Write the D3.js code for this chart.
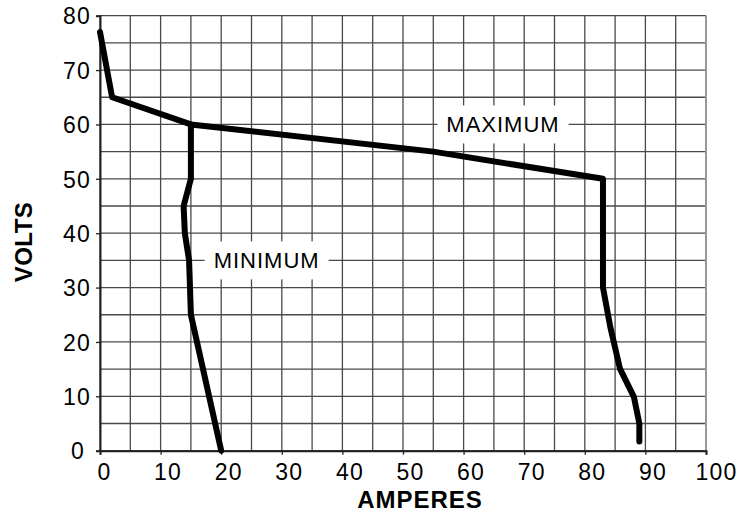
<!DOCTYPE html>
<html>
<head>
<meta charset="utf-8">
<script src="https://cdn.jsdelivr.net/npm/d3@7"></script>
<style>
body { margin: 0; background: #fff; }
text { font-family: "Liberation Sans", Arial, Helvetica, sans-serif; }
</style>
</head>
<body>
<svg id="chart" width="742" height="516"></svg>
<script>
// tick values
var xTicks = [0, 10, 20, 30, 40, 50, 60, 70, 80, 90, 100];
var yTicks = [0, 10, 20, 30, 40, 50, 60, 70, 80];
var gridStep = 5;

// curves: [amperes, volts]
var maximum = [[0, 77], [2, 65], [15, 60], [55, 55], [83, 50], [83, 30], [84.2, 22.8], [85.8, 15.1], [88.1, 9.9], [89, 5], [89, 1.7]];
var minimum = [[15, 60], [15, 50], [13.8, 45], [14, 40], [14.7, 35], [15, 25], [20, 0]];

// curve labels [text, amperes, volts]
var labels = [["MAXIMUM", 66.5, 60], ["MINIMUM", 27.5, 35]];

var svg = d3.select('#chart');

var x = d3.scaleLinear().domain([0, 100]).range([100, 706]);
var y = d3.scaleLinear().domain([0, 80]).range([450.7, 15.7]);

//grid
var gx = d3.range(0, 100 + gridStep, gridStep);
var gy = d3.range(0, 80 + gridStep, gridStep);
var grid = svg.append('g').attr('stroke', '#4a4a4a').attr('stroke-width', 1.3);
grid.selectAll('.vx').data(gx).enter().append('line')
	.attr('x1', function(d){ return x(d); }).attr('x2', function(d){ return x(d); })
	.attr('y1', y(0)).attr('y2', y(80));
grid.selectAll('.hy').data(gy).enter().append('line')
	.attr('y1', function(d){ return y(d); }).attr('y2', function(d){ return y(d); })
	.attr('x1', x(0)).attr('x2', x(100));
// right frame is a bit heavier & gray
svg.append('line').attr('x1', x(100)).attr('x2', x(100)).attr('y1', y(0)).attr('y2', y(80))
	.attr('stroke', '#999').attr('stroke-width', 2);

//label boxes (white patches over the grid)
var labelLayer = svg.append('g');

//axes
var xAxis = d3.axisBottom(x).tickValues(xTicks).tickSize(4).tickPadding(9);
var yAxis = d3.axisLeft(y).tickValues(yTicks).tickSize(4).tickPadding(5);
var ax = svg.append('g').attr('transform', 'translate(0,' + y(0) + ')').call(xAxis);
var ay = svg.append('g').attr('transform', 'translate(' + x(0) + ',0)').call(yAxis);
[ax, ay].forEach(function(a){
	a.attr('font-size', 23).attr('font-family', '"Liberation Sans", Arial, sans-serif');
	a.select('.domain').attr('stroke', '#222').attr('stroke-width', 2);
	a.selectAll('.tick line').attr('stroke', '#222').attr('stroke-width', 1.3);
	a.selectAll('.tick text').attr('fill', '#000');
});
// labels in the original sit a little right of their ticks
ax.selectAll('.tick text').attr('letter-spacing', 1.2)
	.attr('dx', function(d){ return 1 + 3 * String(d).length; });
ay.selectAll('.tick text').attr('letter-spacing', 1.2).attr('dy', '0.36em')
	.attr('dx', function(d){ return String(d).length < 2 ? -6 : 0; });

labels.forEach(function(l){
	var g = labelLayer.append('g');
	var r = g.append('rect').attr('fill', '#fff');
	var t = g.append('text')
		.attr('x', x(l[1])).attr('y', y(l[2]))
		.attr('dy', '0.36em')
		.attr('text-anchor', 'middle')
		.attr('font-size', 22)
		.attr('letter-spacing', 1)
		.text(l[0]);
	var b = t.node().getBBox();
	r.attr('x', b.x - 9).attr('y', y(l[2]) - 19)
		.attr('width', b.width + 18).attr('height', 38);
});

//curves
var line = d3.line().x(function(d){ return x(d[0]); }).y(function(d){ return y(d[1]); });
[maximum, minimum].forEach(function(c){
	svg.append('path')
		.attr('d', line(c))
		.attr('fill', 'none')
		.attr('stroke', '#000')
		.attr('stroke-width', 6)
		.attr('stroke-linejoin', 'round')
		.attr('stroke-linecap', 'round');
});

//axis titles
svg.append('text')
	.attr('x', 420).attr('y', 508)
	.attr('text-anchor', 'middle')
	.attr('font-size', 24).attr('font-weight', 'bold')
	.attr('letter-spacing', 1)
	.text('AMPERES');
svg.append('text')
	.attr('transform', 'translate(31.5,242) rotate(-90)')
	.attr('text-anchor', 'middle')
	.attr('font-size', 24).attr('font-weight', 'bold')
	.attr('letter-spacing', 0.5)
	.text('VOLTS');
</script>
</body>
</html>
